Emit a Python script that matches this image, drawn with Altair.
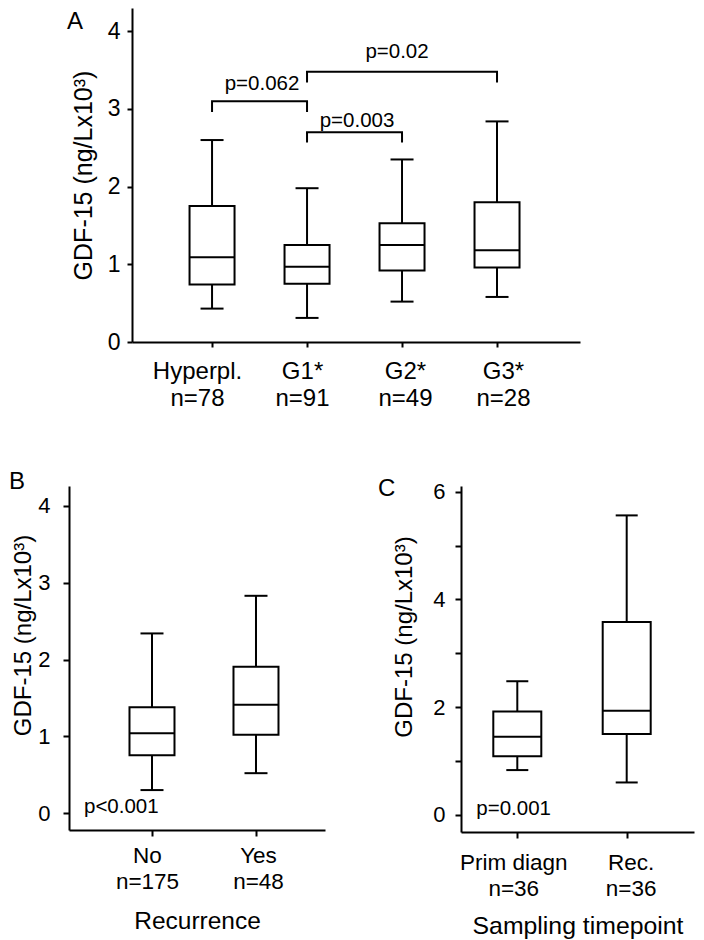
import altair as alt
import pandas as pd

FONT = "Liberation Sans"
INK = "#000000"

# ---------------- Panel A data ----------------
a_groups = ["Hyperpl.", "G1*", "G2*", "G3*"]
a_n = [78, 91, 49, 28]
a_low = [0.43, 0.31, 0.52, 0.58]
a_q1 = [0.74, 0.75, 0.92, 0.96]
a_med = [1.09, 0.97, 1.25, 1.18]
a_q3 = [1.75, 1.25, 1.53, 1.80]
a_high = [2.60, 1.98, 2.35, 2.84]

a_pair_from = ["Hyperpl.", "G1*", "G1*"]
a_pair_to = ["G1*", "G3*", "G2*"]
a_bracket_top = [3.10, 3.48, 2.70]
a_bracket_leg = [2.96, 3.34, 2.57]
a_p_text = ["p=0.062", "p=0.02", "p=0.003"]
a_p_y = [3.24, 3.65, 2.77]

# ---------------- Panel B data ----------------
b_groups = ["No", "Yes"]
b_n = [175, 48]
b_low = [0.30, 0.52]
b_q1 = [0.755, 1.02]
b_med = [1.04, 1.41]
b_q3 = [1.38, 1.905]
b_high = [2.34, 2.83]
b_p_text = "p<0.001"

# ---------------- Panel C data ----------------
c_groups = ["Prim diagn", "Rec."]
c_n = [36, 36]
c_low = [0.83, 0.60]
c_q1 = [1.085, 1.50]
c_med = [1.45, 1.93]
c_q3 = [1.92, 3.58]
c_high = [2.48, 5.56]
c_p_text = "p=0.001"

y_title = "GDF-15 (ng/Lx10³)"
a_ticks = [0, 1, 2, 3, 4]
b_ticks = [0, 1, 2, 3, 4]
c_ticks = [0, 1, 2, 3, 4, 5, 6]


def cat_labels(groups, ns):
    return [f"{g}|n={n}" for g, n in zip(groups, ns)]


def label_shift(labels, shifts):
    return {"condition": [{"test": f"datum.value === '{lab}'", "value": s}
                          for lab, s in zip(labels, shifts)],
            "value": 0}


def axis_common(**kw):
    base = dict(domainColor=INK, domainWidth=2, tickColor=INK, tickWidth=2,
                labelColor=INK, titleColor=INK, labelFont=FONT, titleFont=FONT,
                titleFontWeight="normal", grid=False)
    base.update(kw)
    return alt.Axis(**base)


def box_layers(labels, low, q1, med, q3, high, X, Y, box, cap):
    df = pd.DataFrame({"label": labels, "low": low, "q1": q1, "med": med,
                       "q3": q3, "high": high})
    base = alt.Chart(df)
    whisk = base.mark_rule(color=INK, strokeWidth=2).encode(
        x=X("label"), y=Y("low"), y2=alt.Y2("high"))
    body = base.mark_bar(size=box, fill="white", stroke=INK, strokeWidth=2,
                         opacity=1).encode(x=X("label"), y=Y("q1"), y2=alt.Y2("q3"))
    med_t = base.mark_tick(size=box, thickness=2, color=INK, opacity=1).encode(
        x=X("label"), y=Y("med"))
    cap_lo = base.mark_tick(size=cap, thickness=2, color=INK, opacity=1).encode(
        x=X("label"), y=Y("low"))
    cap_hi = base.mark_tick(size=cap, thickness=2, color=INK, opacity=1).encode(
        x=X("label"), y=Y("high"))
    return [whisk, body, med_t, cap_lo, cap_hi]


def letter_layer(ch, x, y):
    return alt.Chart(pd.DataFrame({"t": [ch]})).mark_text(
        font=FONT, fontSize=24, color=INK, align="left", baseline="alphabetic"
    ).encode(x=alt.value(x), y=alt.value(y), text="t:N")


def extent_layer(x, y1, y2):
    return alt.Chart(pd.DataFrame({"t": [0]})).mark_rule(opacity=0).encode(
        x=alt.value(x), y=alt.value(y1), y2=alt.value(y2))


# ================= Panel A =================
a_labels = cat_labels(a_groups, a_n)
a_lab = dict(zip(a_groups, a_labels))
a_xscale = alt.Scale(type="point", domain=a_labels, padding=0.858, align=0.491)
a_yscale = alt.Scale(domain=[0, 4.3], nice=False, zero=False)
a_xaxis = axis_common(title=None, labelExpr="split(datum.label, '|')", labelAngle=0,
                      labelFontSize=24, labelLineHeight=27, tickSize=5,
                      labelPadding=12,
                      labelOffset=label_shift(a_labels, [-15, -5, 3, 6]))
a_yaxis = axis_common(title=y_title, values=a_ticks, tickSize=5, labelPadding=7,
                      labelFontSize=23, titleFontSize=25, titlePadding=11)


def AX(f):
    return alt.X(f"{f}:N", scale=a_xscale, axis=a_xaxis)


def AY(f):
    return alt.Y(f"{f}:Q", scale=a_yscale, axis=a_yaxis)


rows = []
for i, (f, t, top, leg) in enumerate(zip(a_pair_from, a_pair_to, a_bracket_top, a_bracket_leg)):
    rows += [dict(id=i, k=0, cat=a_lab[f], val=leg),
             dict(id=i, k=1, cat=a_lab[f], val=top),
             dict(id=i, k=2, cat=a_lab[t], val=top),
             dict(id=i, k=3, cat=a_lab[t], val=leg)]
br_df = pd.DataFrame(rows)
brackets = alt.Chart(br_df).mark_line(color=INK, strokeWidth=2, strokeJoin="miter").encode(
    x=AX("cat"), y=AY("val"), detail="id:N", order="k:Q")

p_dx = [50, 90, 50]
p_layers = []
for f, txt, yv, dx in zip(a_pair_from, a_p_text, a_p_y, p_dx):
    d = pd.DataFrame({"at": [a_lab[f]], "ty": [yv], "t": [txt]})
    p_layers.append(alt.Chart(d).mark_text(font=FONT, fontSize=20.5, color=INK,
                                           align="center", baseline="alphabetic", dx=dx)
                    .encode(x=AX("at"), y=AY("ty"), text="t:N"))

A = alt.layer(
    extent_layer(0, 0, 431),
    *box_layers(a_labels, a_low, a_q1, a_med, a_q3, a_high, AX, AY, 45, 23),
    brackets,
    *p_layers,
    letter_layer("A", -65, 21),
).properties(width=448, height=334)

spacer = alt.Chart(pd.DataFrame({"t": [0]})).mark_rule(opacity=0).encode(
    x=alt.value(0), y=alt.value(0), y2=alt.value(1)
).properties(width=63, height=1)

# ================= Panel B =================
b_labels = cat_labels(b_groups, b_n)
b_xscale = alt.Scale(type="point", domain=b_labels, padding=0.7308, align=0.546)
b_yscale = alt.Scale(domain=[-0.22, 4.26], nice=False, zero=False)
b_xaxis = axis_common(title="Recurrence", labelExpr="split(datum.label, '|')", labelAngle=0,
                      labelFontSize=22.5, labelLineHeight=26.7, tickSize=6, labelPadding=8,
                      titleFontSize=24.5, titlePadding=16.5,
                      labelOffset=label_shift(b_labels, [-5, 2]))
b_yaxis = axis_common(title=y_title, values=b_ticks, tickSize=6, labelPadding=13,
                      labelFontSize=22, titleFontSize=24, titlePadding=2.5, titleY=149)


def BX(f):
    return alt.X(f"{f}:N", scale=b_xscale, axis=b_xaxis)


def BY(f):
    return alt.Y(f"{f}:Q", scale=b_yscale, axis=b_yaxis)


b_p = alt.Chart(pd.DataFrame({"at": [b_labels[0]], "ty": [0], "t": [b_p_text]})).mark_text(
    font=FONT, fontSize=20.5, color=INK, align="left", baseline="alphabetic", dx=-68
).encode(x=BX("at"), y=BY("ty"), text="t:N")

B = alt.layer(
    extent_layer(-61, -20, 0),
    *box_layers(b_labels, b_low, b_q1, b_med, b_q3, b_high, BX, BY, 45, 23),
    b_p,
    letter_layer("B", -60, 3),
).properties(width=256, height=344)

# ================= Panel C =================
c_labels = cat_labels(c_groups, c_n)
c_xscale = alt.Scale(type="point", domain=c_labels, padding=0.5649, align=0.4555)
c_yscale = alt.Scale(domain=[-0.32, 6.106], nice=False, zero=False)
c_xaxis = axis_common(title="Sampling timepoint", labelExpr="split(datum.label, '|')",
                      labelAngle=0, labelFontSize=22.5, labelLineHeight=26.3, tickSize=6,
                      labelPadding=13, titleFontSize=24.8, titlePadding=13.4,
                      labelOffset=label_shift(c_labels, [-4, 4]))
c_yaxis = axis_common(title=y_title, values=c_ticks,
                      labelExpr="datum.value % 2 === 0 ? datum.label : ''",
                      tickSize=6, labelPadding=10, labelFontSize=22, titleFontSize=24,
                      titlePadding=15.8, titleY=150.5)


def CX(f):
    return alt.X(f"{f}:N", scale=c_xscale, axis=c_xaxis)


def CY(f):
    return alt.Y(f"{f}:Q", scale=c_yscale, axis=c_yaxis)


c_p = alt.Chart(pd.DataFrame({"at": [c_labels[0]], "ty": [0], "t": [c_p_text]})).mark_text(
    font=FONT, fontSize=20.5, color=INK, align="left", baseline="alphabetic", dx=-41
).encode(x=CX("at"), y=CY("ty"), text="t:N")

C = alt.layer(
    *box_layers(c_labels, c_low, c_q1, c_med, c_q3, c_high, CX, CY, 48, 22),
    c_p,
    letter_layer("C", -83, 10),
).properties(width=233, height=346)

top_row = alt.hconcat(spacer, A, spacing=0, bounds="flush")
bottom_row = alt.hconcat(B, C, spacing=136, bounds="flush")
chart = (
    alt.vconcat(top_row, bottom_row, spacing=27,
                padding={"left": 0, "top": 0, "right": 2, "bottom": 2})
    .configure(font=FONT)
    .configure_view(stroke=None)
)

chart.save("out.html", embed_options={"renderer": "svg", "actions": False})
